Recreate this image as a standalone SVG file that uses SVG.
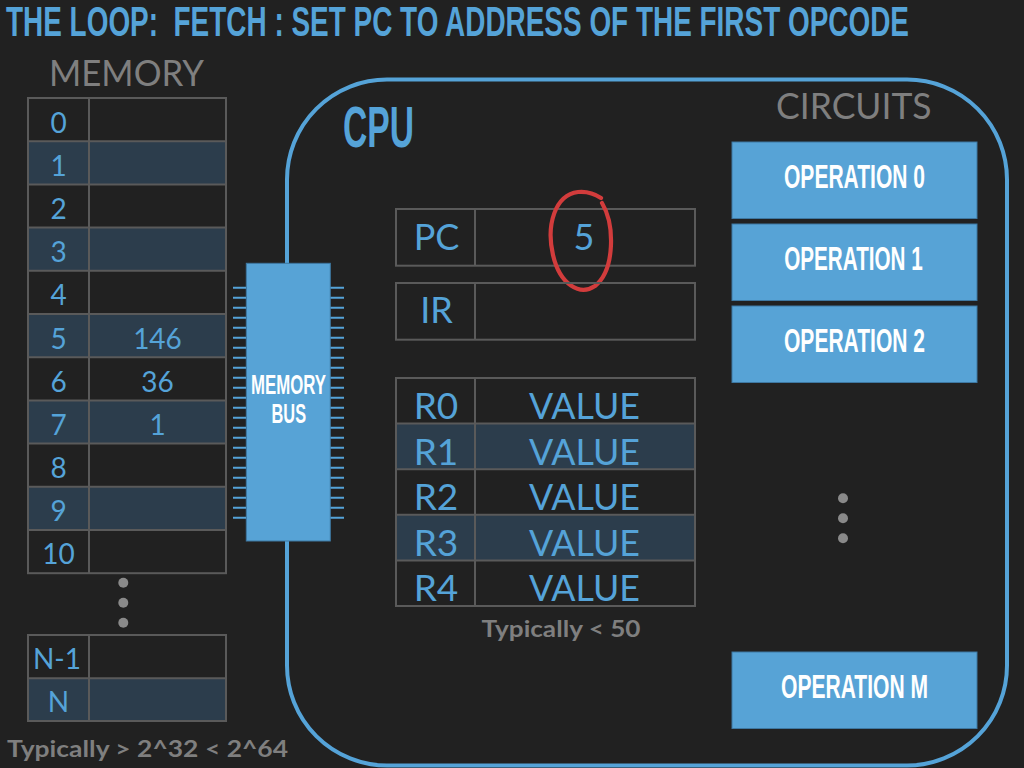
<svg xmlns="http://www.w3.org/2000/svg" width="1024" height="768" viewBox="0 0 1024 768">
<style>
.bg{fill:#212121}
.cond{font-family:"Liberation Sans",Arial,sans-serif;font-weight:bold}
.av{font-family:Lato,"Noto Sans",sans-serif}
.blue{fill:#55a3d8}
.gray{fill:#7f7f7f}
.white{fill:#ffffff}
.grid{fill:none;stroke:#5a5a5a;stroke-width:2}
.shade{fill:#2c3d4c}
.op{fill:#57a3d6;stroke:#3e78a2;stroke-width:1}
.dot{fill:#8a8a8a}
.tick{stroke:#55a3d8;stroke-width:2}
</style>
<rect class="bg" x="0" y="0" width="1024" height="768"/>

<text class="cond blue" x="6" y="36" font-size="43" textLength="903" lengthAdjust="spacingAndGlyphs" xml:space="preserve" style="white-space:pre">THE LOOP:  FETCH : SET PC TO ADDRESS OF THE FIRST OPCODE</text>

<g id="connectors"></g>

<g id="memory">
<text class="av gray" x="49" y="86" font-size="36" textLength="155" lengthAdjust="spacingAndGlyphs">MEMORY</text>
<rect class="shade" x="28" y="141.2" width="198" height="43.2"/>
<rect class="shade" x="28" y="227.6" width="198" height="43.2"/>
<rect class="shade" x="28" y="314" width="198" height="43.2"/>
<rect class="shade" x="28" y="400.4" width="198" height="43.2"/>
<rect class="shade" x="28" y="486.8" width="198" height="43.2"/>
<rect class="grid" x="28" y="98" width="198" height="475.2"/>
<path class="grid" d="M89 98V573.2M28 141.2H226M28 184.4H226M28 227.6H226M28 270.8H226M28 314H226M28 357.2H226M28 400.4H226M28 443.6H226M28 486.8H226M28 530H226"/>
<g class="av blue" font-size="28" text-anchor="middle">
<text x="58.5" y="132.5">0</text>
<text x="58.5" y="175.7">1</text>
<text x="58.5" y="218.9">2</text>
<text x="58.5" y="262.1">3</text>
<text x="58.5" y="305.3">4</text>
<text x="58.5" y="348.5">5</text>
<text x="58.5" y="391.7">6</text>
<text x="58.5" y="434.9">7</text>
<text x="58.5" y="478.1">8</text>
<text x="58.5" y="521.3">9</text>
<text x="58.5" y="563.5">10</text>
<text x="157.5" y="348.5">146</text>
<text x="157.5" y="391.7">36</text>
<text x="157.5" y="434.9">1</text>
</g>
<circle class="dot" cx="123.3" cy="582.7" r="5"/>
<circle class="dot" cx="123.3" cy="602.7" r="5"/>
<circle class="dot" cx="123.3" cy="622.7" r="5"/>
<rect class="shade" x="28" y="678.3" width="198" height="42.7"/>
<rect class="grid" x="28" y="635" width="198" height="86"/>
<path class="grid" d="M89 635V721M28 678.3H226"/>
<g class="av blue" font-size="28" text-anchor="middle">
<text x="57" y="669">N-1</text>
<text x="58.5" y="711.5">N</text>
</g>
<text class="av gray" x="7" y="756.5" font-size="23.5" font-weight="bold" textLength="281" lengthAdjust="spacingAndGlyphs">Typically &gt; 2^32 &lt; 2^64</text>
</g>

<g id="cpu">
<rect x="287" y="79.5" width="720" height="686" rx="100" ry="100" fill="none" stroke="#55a3d8" stroke-width="4"/>
<text class="cond blue" x="343" y="146.7" font-size="57" textLength="71" lengthAdjust="spacingAndGlyphs">CPU</text>
</g>

<g id="memory-bus">
<rect x="246.3" y="263.3" width="84" height="277.7" fill="#57a3d6" stroke="#3e78a2" stroke-width="1"/>
<path class="tick" d="M233 287.7H246M233 297.7H246M233 307.7H246M233 317.7H246M233 327.7H246M233 337.7H246M233 347.7H246M233 357.7H246M233 367.7H246M233 377.7H246M233 387.7H246M233 397.7H246M233 407.7H246M233 417.7H246M233 427.7H246M233 437.7H246M233 447.7H246M233 457.7H246M233 467.7H246M233 477.7H246M233 487.7H246M233 497.7H246M233 507.7H246M233 517.7H246"/>
<path class="tick" d="M330.5 287.7H344M330.5 297.7H344M330.5 307.7H344M330.5 317.7H344M330.5 327.7H344M330.5 337.7H344M330.5 347.7H344M330.5 357.7H344M330.5 367.7H344M330.5 377.7H344M330.5 387.7H344M330.5 397.7H344M330.5 407.7H344M330.5 417.7H344M330.5 427.7H344M330.5 437.7H344M330.5 447.7H344M330.5 457.7H344M330.5 467.7H344M330.5 477.7H344M330.5 487.7H344M330.5 497.7H344M330.5 507.7H344M330.5 517.7H344"/>
<text class="cond white" x="288.5" y="394.3" font-size="27.5" text-anchor="middle" textLength="75" lengthAdjust="spacingAndGlyphs">MEMORY</text>
<text class="cond white" x="288.8" y="422.7" font-size="27.5" text-anchor="middle" textLength="34.5" lengthAdjust="spacingAndGlyphs">BUS</text>
</g>

<g id="pc">
<rect class="grid" x="396" y="209" width="299" height="56.7"/>
<path class="grid" d="M475 209V265.7"/>
<text class="av blue" x="436.5" y="250" font-size="36" text-anchor="middle">PC</text>
<text class="av blue" x="584" y="250" font-size="36" text-anchor="middle">5</text>
<path d="M602 203C615 225 615 270 595 286C580 296 560 285 553 255C546 225 555 195 578 192C588 191 595 194 601 198" fill="none" stroke="#d23c3c" stroke-width="4.2" stroke-linecap="round"/>
</g>

<g id="ir">
<rect class="grid" x="396" y="283" width="299" height="56.7"/>
<path class="grid" d="M475 283V339.7"/>
<text class="av blue" x="436.5" y="323.3" font-size="36" text-anchor="middle">IR</text>
</g>

<g id="registers">
<rect class="shade" x="396" y="423.6" width="299" height="45.6"/>
<rect class="shade" x="396" y="514.8" width="299" height="45.6"/>
<rect class="grid" x="396" y="378" width="299" height="228"/>
<path class="grid" d="M475 378V606M396 423.6H695M396 469.2H695M396 514.8H695M396 560.4H695"/>
<g class="av blue" font-size="37" text-anchor="middle">
<text x="436" y="419">R0</text>
<text x="436" y="464.6">R1</text>
<text x="436" y="510.2">R2</text>
<text x="436" y="555.8">R3</text>
<text x="436" y="600.5">R4</text>
<text x="584.5" y="419" textLength="111" lengthAdjust="spacingAndGlyphs">VALUE</text>
<text x="584.5" y="464.6" textLength="111" lengthAdjust="spacingAndGlyphs">VALUE</text>
<text x="584.5" y="510.2" textLength="111" lengthAdjust="spacingAndGlyphs">VALUE</text>
<text x="584.5" y="555.8" textLength="111" lengthAdjust="spacingAndGlyphs">VALUE</text>
<text x="584.5" y="600.5" textLength="111" lengthAdjust="spacingAndGlyphs">VALUE</text>
</g>
<text class="av gray" x="561" y="636.7" font-size="23" font-weight="bold" text-anchor="middle" textLength="159" lengthAdjust="spacingAndGlyphs">Typically &lt; 50</text>
</g>

<g id="circuits">
<text class="av gray" x="776" y="119.3" font-size="36" textLength="155.5" lengthAdjust="spacingAndGlyphs">CIRCUITS</text>
<circle class="dot" cx="843" cy="498.3" r="5"/>
<circle class="dot" cx="843" cy="518.3" r="5"/>
<circle class="dot" cx="843" cy="538.3" r="5"/>
</g>

<g id="operation-0">
<rect class="op" x="732" y="142" width="245" height="76.5"/>
<text class="cond white" x="854.5" y="187.5" font-size="33" text-anchor="middle" textLength="141" lengthAdjust="spacingAndGlyphs">OPERATION 0</text>
</g>
<g id="operation-1">
<rect class="op" x="732" y="224" width="245" height="76.5"/>
<text class="cond white" x="853.5" y="270" font-size="33" text-anchor="middle" textLength="138.5" lengthAdjust="spacingAndGlyphs">OPERATION 1</text>
</g>
<g id="operation-2">
<rect class="op" x="732" y="306" width="245" height="76.5"/>
<text class="cond white" x="854.5" y="352" font-size="33" text-anchor="middle" textLength="141" lengthAdjust="spacingAndGlyphs">OPERATION 2</text>
</g>
<g id="operation-m">
<rect class="op" x="732" y="652" width="245" height="76.5"/>
<text class="cond white" x="854.5" y="698.3" font-size="33" text-anchor="middle" textLength="147" lengthAdjust="spacingAndGlyphs">OPERATION M</text>
</g>
</svg>
